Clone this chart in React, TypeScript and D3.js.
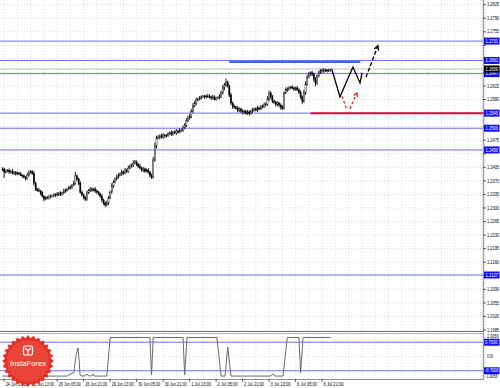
import React from "react";
import * as d3 from "d3";

// ---------- data ----------
const firstOpen = 1.2398;
const closes = [
  1.2401,1.2393,1.2395,1.2398,1.2393,1.2395,1.2390,1.2393,1.2388,1.2390,
  1.2388,1.2385,1.2383,1.2380,1.2377,1.2385,1.2393,1.2395,1.2390,1.2364,
  1.2349,1.2346,1.2344,1.2339,1.2331,1.2323,1.2326,1.2328,1.2328,1.2331,
  1.2331,1.2334,1.2336,1.2334,1.2339,1.2336,1.2339,1.2344,1.2346,1.2349,
  1.2352,1.2354,1.2359,1.2364,1.2383,1.2375,1.2364,1.2341,1.2334,1.2328,
  1.2323,1.2339,1.2346,1.2349,1.2346,1.2349,1.2344,1.2341,1.2336,1.2331,
  1.2321,1.2313,1.2308,1.2313,1.2326,1.2341,1.2357,1.2367,1.2375,1.2380,
  1.2385,1.2388,1.2393,1.2390,1.2398,1.2395,1.2403,1.2408,1.2411,1.2416,
  1.2419,1.2413,1.2408,1.2403,1.2398,1.2401,1.2395,1.2398,1.2393,1.2385,
  1.2380,1.2424,1.2460,1.2481,1.2483,1.2486,1.2483,1.2488,1.2486,1.2488,
  1.2491,1.2494,1.2491,1.2496,1.2494,1.2499,1.2496,1.2501,1.2501,1.2507,
  1.2514,1.2525,1.2532,1.2537,1.2550,1.2563,1.2571,1.2579,1.2581,1.2584,
  1.2587,1.2587,1.2589,1.2587,1.2589,1.2587,1.2584,1.2587,1.2581,1.2584,
  1.2584,1.2589,1.2597,1.2610,1.2618,1.2625,1.2615,1.2592,1.2571,1.2563,
  1.2561,1.2558,1.2553,1.2556,1.2550,1.2548,1.2550,1.2545,1.2548,1.2545,
  1.2550,1.2553,1.2556,1.2553,1.2558,1.2556,1.2561,1.2563,1.2566,1.2568,
  1.2581,1.2597,1.2587,1.2576,1.2573,1.2568,1.2571,1.2566,1.2561,1.2558,
  1.2597,1.2605,1.2607,1.2610,1.2612,1.2610,1.2607,1.2610,1.2605,1.2599,
  1.2587,1.2576,1.2597,1.2620,1.2638,1.2646,1.2649,1.2646,1.2633,1.2623,
  1.2641,1.2649,1.2654,1.2656,1.2654,1.2656,1.2654,1.2656,1.2656,
];
// wick lengths in pips above / below the body
const upWick = [
  4,3,5,2,4,3,6,3,2,4, 3,5,2,4,3,6,4,3,2,5, 4,3,6,3,5,2,4,3,5,4,
  3,4,2,5,3,4,3,6,4,3, 5,4,3,6,10,4,3,5,4,3, 4,6,3,5,4,3,5,4,3,4,
  5,3,4,6,5,4,7,5,4,6, 5,4,6,3,5,4,6,5,4,7, 5,4,3,6,4,5,3,4,5,3,
  4,8,9,6,5,4,6,5,4,3, 5,4,6,3,5,4,3,5,4,6, 5,7,6,5,6,8,5,6,4,5,
  4,5,3,4,6,4,3,5,4,3, 4,5,6,7,5,9,4,3,5,4, 4,3,5,4,3,5,4,3,5,4,
  4,5,3,4,6,4,5,4,6,5, 8,6,4,5,3,4,5,3,4,5, 4,6,5,4,3,5,4,3,5,4,
  5,4,8,7,6,5,4,5,4,5, 4,6,5,4,5,4,3,4,3,
];
const downWick = [
  3,15,4,3,5,4,3,5,4,3, 4,3,5,4,6,3,4,5,4,6, 5,4,3,6,4,5,3,4,6,3,
  4,3,5,4,3,5,4,3,5,4, 3,4,5,3,4,6,5,4,5,6, 5,4,3,5,4,3,5,4,3,5,
  6,5,6,4,5,3,4,5,3,4, 4,3,5,4,3,5,4,3,4,5, 3,5,4,3,4,5,4,3,5,6,
  5,4,5,6,4,5,3,4,5,4, 4,3,5,4,3,5,4,3,4,5, 4,5,3,4,5,4,3,5,4,3,
  4,3,5,4,3,4,5,4,3,4, 3,4,5,4,6,5,4,6,5,7, 5,4,6,5,4,6,5,4,5,6,
  4,5,4,3,5,4,3,4,5,4, 4,5,6,5,4,6,5,6,7,5, 4,3,5,4,3,4,5,4,3,5,
  5,8,4,5,4,3,5,6,7,9, 5,4,3,4,5,3,4,3,4,
];
const currentPrice = 1.2659;

const priceTicks = d3.range(0, 25).map((k) => +(1.1985 + 0.0035 * k).toFixed(4));
const levels = [1.2731, 1.2681, 1.2647, 1.2545, 1.2506, 1.2450, 1.2127];

const dateLabels = [
  "24 Jun 21:00", "25 Jun 13:00", "26 Jun 05:00", "26 Jun 21:00", "29 Jun 13:00",
  "30 Jun 05:00", "30 Jun 21:00", "1 Jul 13:00", "2 Jul 05:00", "2 Jul 21:00",
  "3 Jul 13:00", "6 Jul 05:00", "6 Jul 21:00",
];
const dateLabelBars = dateLabels.map((_, k) => 1 + 16 * k);

// drawn objects: [bar, price]
const greenLine: [number, number][] = [[137, 1.2677], [216, 1.2677]];
const redLine: [number, number][] = [[186, 1.2545], [290, 1.2545]];
const forecastSolid: [number, number][] = [
  [198.8, 1.2659], [203.8, 1.2587], [211.6, 1.2664], [215.9, 1.2623], [217.1, 1.2649],
];
const forecastDashed: [number, number][] = [[219.5, 1.2638], [226.7, 1.2719]];
const redDash1: [number, number][] = [[205, 1.2589], [208, 1.2553]];
const redDash2: [number, number][] = [[209.8, 1.2556], [214, 1.2597]];

// indicator: [bar, value]
const indicator: [number, number][] = [
  [0, -0.96], [39, -0.96], [41, -0.86], [43, -0.8], [44.5, 0.1], [45.6, 0.42], [46.3, -0.2], [46.8, -0.9],
  [48, -0.96], [50, -0.95], [51, -0.86], [52, -0.95], [54, -0.95], [54.6, -0.86], [55.5, -0.96],
  [63, -0.96], [65, 0.93], [89, 0.93], [90, -0.9], [91, 0.93], [109, 0.93], [110, -0.9],
  [111.4, 0.93], [129.5, 0.93], [132, -0.96], [134.4, -0.96], [136, 0.45], [138, -0.96],
  [162, -0.96], [163.3, -0.85], [164.5, -0.96], [169.4, -0.96], [172, 0.93], [179, 0.93],
  [180, -0.8], [181.5, 0.93], [198, 0.93],
];
const indLevels = [0.7, -0.7];
const indTicks = [1.0056, 0, -1.0056];

// ---------- layout ----------
const W = 500, H = 388;
const plotRight = 483;
const mainBottom = 331;
const panelTop = 333, panelBottom = 379;
const barStep = 1.656;

const x = d3.scaleLinear().domain([0, 1]).range([2.5, 2.5 + barStep]);
const y = d3.scaleLinear().domain([1.1985, 1.2825]).range([330, 4.7]);
const yi = d3.scaleLinear().domain([-1.0056, 1.0056]).range([377, 336]);

const fontFam = "'Liberation Sans', Arial, sans-serif";

function arrowHead(p0: [number, number], p1: [number, number], len = 5, ang = 0.5) {
  const a = Math.atan2(p1[1] - p0[1], p1[0] - p0[0]);
  const l = [p1[0] - len * Math.cos(a - ang), p1[1] - len * Math.sin(a - ang)];
  const r = [p1[0] - len * Math.cos(a + ang), p1[1] - len * Math.sin(a + ang)];
  return `M${l[0]},${l[1]}L${p1[0]},${p1[1]}L${r[0]},${r[1]}`;
}

function Seal() {
  const cx = 28, cy = 361, n = 28, ro = 26, ri = 23;
  const pts = d3.range(n * 2).map((k) => {
    const a = (Math.PI * k) / n;
    const r = k % 2 === 0 ? ro : ri;
    return [cx + r * Math.cos(a), cy + r * Math.sin(a)];
  });
  return (
    <g>
      <path d={"M" + pts.map((p) => p.join(",")).join("L") + "Z"} fill="#e3302b" />
      <circle cx={cx} cy={cy} r={21} fill="#ea4438" />
      <g stroke="#fff" strokeWidth={1.2} fill="none">
        <rect x={cx - 4.5} y={cy - 15} width={9} height={9} rx={1.5} />
        <path d={`M${cx},${cy - 6}L${cx},${cy - 12}M${cx - 3},${cy - 13}L${cx},${cy - 10}L${cx + 3},${cy - 13}`} />
      </g>
      <text x={cx} y={cy + 5} textAnchor="middle" fill="#fff" fontSize={7.6} fontFamily={fontFam}>
        InstaForex
      </text>
    </g>
  );
}

export default function App() {
  const line = d3.line<[number, number]>().x((d) => x(d[0])).y((d) => y(d[1]));
  const indLine = d3.line<[number, number]>().x((d) => x(d[0])).y((d) => yi(d[1]));

  const gridXs: number[] = [];
  for (let k = 0; ; k++) {
    const gx = x(1) + 13.25 * k;
    if (gx > plotRight) break;
    gridXs.push(gx);
  }
  const fd = (p: [number, number]): [number, number] => [x(p[0]), y(p[1])];
  const boxYs = [...levels, currentPrice].map((l) => y(l));
  const visibleTicks = priceTicks.filter((t) => boxYs.every((by) => Math.abs(by - y(t)) > 4.5));

  return (
    <svg
      width={W}
      height={H}
      style={{ position: "fixed", left: 0, top: 0, background: "#fff" }}
    >
      <rect width={W} height={H} fill="#fff" />
      {/* grid */}
      <g stroke="#d0d0d0" strokeWidth={0.8} strokeDasharray="1,2">
        {gridXs.map((gx, i) => (
          <React.Fragment key={i}>
            <line x1={gx} x2={gx} y1={0} y2={mainBottom} />
            <line x1={gx} x2={gx} y1={panelTop} y2={panelBottom} />
          </React.Fragment>
        ))}
        {priceTicks.map((t) => (
          <line key={t} x1={0} x2={plotRight} y1={y(t)} y2={y(t)} />
        ))}
        <line x1={0} x2={plotRight} y1={yi(0)} y2={yi(0)} />
      </g>

      {/* levels */}
      <g stroke="#7070ff" strokeWidth={1}>
        {levels.map((l) => (
          <line key={l} x1={0} x2={plotRight} y1={y(l)} y2={y(l)} />
        ))}
      </g>
      <line x1={0} x2={plotRight} y1={y(currentPrice)} y2={y(currentPrice)} stroke="#c0c0c0" strokeWidth={1} />

      {/* candles */}
      <g>
        {closes.map((c, i) => {
          const o = i === 0 ? firstOpen : closes[i - 1];
          const hi = Math.max(o, c) + upWick[i] * 0.0001;
          const lo = Math.min(o, c) - downWick[i] * 0.0001;
          const cx = x(i);
          const top = y(Math.max(o, c));
          const bot = y(Math.min(o, c));
          return (
            <g key={i}>
              <line x1={cx} x2={cx} y1={y(hi)} y2={y(lo)} stroke="#000" strokeWidth={0.9} />
              <rect
                x={cx - 0.6}
                y={top}
                width={1.2}
                height={Math.max(bot - top, 0.6)}
                fill={c >= o ? "#fff" : "#000"}
                stroke="#000"
                strokeWidth={0.4}
              />
            </g>
          );
        })}
      </g>

      {/* objects */}
      <path d={line(greenLine) || ""} stroke="#3a62d8" strokeWidth={2} fill="none" />
      <path d={line(greenLine.map((d) => [d[0], d[1] + 0.0002] as [number, number])) || ""} stroke="#2e9a4e" strokeWidth={1} fill="none" />
      <line x1={x(redLine[0][0])} x2={plotRight} y1={y(redLine[0][1])} y2={y(redLine[0][1])} stroke="#d4143a" strokeWidth={2} />
      <path d={line(forecastSolid) || ""} stroke="#000" strokeWidth={1.3} fill="none" />
      <path d={line(forecastDashed) || ""} stroke="#000" strokeWidth={1.3} strokeDasharray="4,2" fill="none" />
      <path d={arrowHead(fd(forecastDashed[0]), fd(forecastDashed[1]), 5)} stroke="#000" strokeWidth={1.3} fill="none" />
      <path d={line(redDash1) || ""} stroke="#e8203a" strokeWidth={1.3} strokeDasharray="3,2" fill="none" />
      <path d={line(redDash2) || ""} stroke="#e8203a" strokeWidth={1.3} strokeDasharray="3,2" fill="none" />
      <path d={arrowHead(fd(redDash2[0]), fd(redDash2[1]), 4)} stroke="#e8203a" strokeWidth={1.3} fill="none" />

      {/* indicator panel */}
      <g stroke="#7070ff" strokeWidth={1}>
        {indLevels.map((l) => (
          <line key={l} x1={0} x2={plotRight} y1={yi(l)} y2={yi(l)} />
        ))}
      </g>
      <path d={indLine(indicator) || ""} stroke="#6a6a6a" strokeWidth={1} fill="none" />

      {/* frames */}
      <line x1={0} x2={plotRight} y1={mainBottom + 0.5} y2={mainBottom + 0.5} stroke="#707070" strokeWidth={1} />
      <line x1={0} x2={plotRight} y1={panelTop + 0.5} y2={panelTop + 0.5} stroke="#b0b0b0" strokeWidth={1} />
      <line x1={0} x2={plotRight} y1={panelBottom + 0.5} y2={panelBottom + 0.5} stroke="#909090" strokeWidth={1} />
      <line x1={plotRight + 0.5} x2={plotRight + 0.5} y1={0} y2={panelBottom + 1} stroke="#a0a0a0" strokeWidth={1.5} />

      {/* right axis labels */}
      <g fontFamily={fontFam} fontSize={4.6} fill="#000">
        {priceTicks.map((t) => (
          <line key={"t" + t} x1={plotRight} x2={plotRight + 3} y1={y(t)} y2={y(t)} stroke="#000" strokeWidth={0.6} />
        ))}
        {visibleTicks.map((t) => (
          <text key={t} x={487} y={y(t)} dy="0.35em" textLength={12} lengthAdjust="spacingAndGlyphs">{t.toFixed(4)}</text>
        ))}
        {indTicks.map((t) => (
          <text key={t} x={t < 0 ? 485.5 : 487} y={yi(t) - (t < 0 ? 0.5 : 0)} dy="0.35em" textLength={t === 0 ? 6 : t < 0 ? 12 : 11.5} lengthAdjust="spacingAndGlyphs">
            {t === 0 ? "0.00" : t.toFixed(4)}
          </text>
        ))}
      </g>
      <g fontFamily={fontFam} fontSize={4.6}>
        {levels.map((l) => (
          <g key={l}>
            <rect x={484} y={y(l) - 3.5} width={15.5} height={7} fill="#1010ff" />
            <text x={485.5} y={y(l)} dy="0.35em" fill="#fff" textLength={12.5} lengthAdjust="spacingAndGlyphs">{l.toFixed(4)}</text>
          </g>
        ))}
        <rect x={484} y={y(currentPrice) - 3.5} width={15.5} height={7} fill="#000" />
        <text x={485.5} y={y(currentPrice)} dy="0.35em" fill="#fff" textLength={12.5} lengthAdjust="spacingAndGlyphs">{currentPrice.toFixed(4)}</text>
        {indLevels.map((l) => (
          <g key={l}>
            <rect x={484} y={yi(l) - 3.5} width={15.5} height={7} fill="#1010ff" />
            <text x={485} y={yi(l)} dy="0.35em" fill="#fff" textLength={l < 0 ? 13.5 : 12.5} lengthAdjust="spacingAndGlyphs">{l.toFixed(4)}</text>
          </g>
        ))}
      </g>

      {/* date labels */}
      <g fontFamily={fontFam} fontSize={4.6} fill="#000">
        {dateLabels.map((lab, k) => {
          const lx = x(dateLabelBars[k]);
          return (
            <g key={lab}>
              <line x1={lx} x2={lx} y1={panelBottom} y2={panelBottom + 3} stroke="#000" strokeWidth={0.6} />
              <text x={lx + 1.5} y={385.5} textLength={lab.length > 11 ? 22 : 20} lengthAdjust="spacingAndGlyphs">{lab}</text>
            </g>
          );
        })}
      </g>

      <Seal />
    </svg>
  );
}
